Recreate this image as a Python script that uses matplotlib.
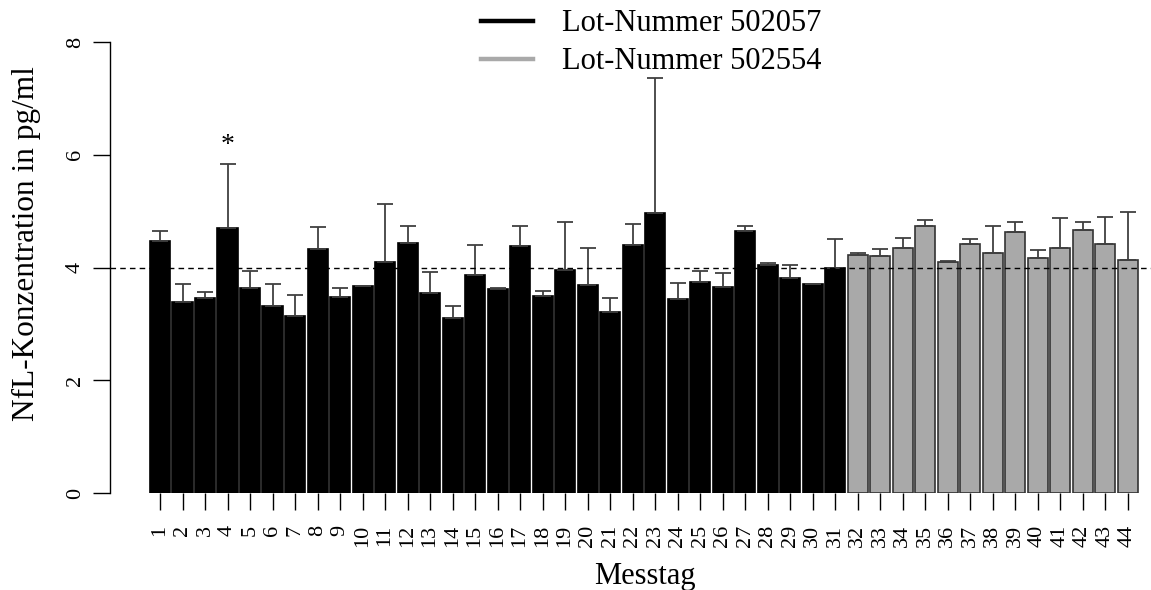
import numpy as np
import matplotlib
matplotlib.use("Agg")
import matplotlib.pyplot as plt
from matplotlib.lines import Line2D

plt.rcParams['font.family'] = ['Liberation Serif', 'DejaVu Serif']

# Messtage and mean NfL values (pg/ml), upper error bar ends
days = list(range(1, 45))
means = [4.47, 3.39, 3.46, 4.70, 3.63, 3.31, 3.14, 4.32, 3.48, 3.67,
         4.09, 4.44, 3.54, 3.11, 3.86, 3.62, 4.38, 3.50, 3.96, 3.69,
         3.21, 4.40, 4.97, 3.44, 3.75, 3.65, 4.65, 4.05, 3.82, 3.71,
         4.00,
         4.23, 4.21, 4.34, 4.73, 4.09, 4.42, 4.25, 4.63, 4.16, 4.35,
         4.67, 4.42, 4.14]
upper = [4.65, 3.70, 3.56, 5.84, 3.94, 3.70, 3.51, 4.71, 3.64, 3.67,
         5.13, 4.74, 3.92, 3.31, 4.40, 3.63, 4.73, 3.58, 4.80, 4.35,
         3.46, 4.78, 7.37, 3.72, 3.94, 3.91, 4.73, 4.08, 4.04, 3.71,
         4.50,
         4.26, 4.33, 4.52, 4.85, 4.11, 4.50, 4.74, 4.80, 4.31, 4.88,
         4.80, 4.90, 4.98]
lots = ['Lot-Nummer 502057'] * 31 + ['Lot-Nummer 502554'] * 13
lot_colors = {'Lot-Nummer 502057': 'black', 'Lot-Nummer 502554': '#a9a9a9'}
reference = 4.0
marked_day = 4

means = np.array(means)
upper = np.array(upper)
x = np.array(days)

fig = plt.figure(figsize=(11.51, 5.90), dpi=100)
ax = fig.add_axes([110 / 1151, 97 / 590, 1041 / 1151, 451 / 590])

fill = [lot_colors[l] for l in lots]
edge = ['black' if l == 'Lot-Nummer 502057' else '#333333' for l in lots]
ax.bar(x, means, width=0.89, color=fill, edgecolor=edge, linewidth=1.2, zorder=2)
ax.errorbar(x, means, yerr=[np.zeros_like(means), upper - means], fmt='none',
            ecolor='#404040', elinewidth=1.3, capsize=5.8, capthick=1.3, zorder=3)

# reference line at 4 pg/ml
ax.axhline(reference, color='black', linestyle=(0, (4, 3)), linewidth=1, zorder=4)

ax.text(marked_day, upper[marked_day - 1] + 0.1, '*', ha='center', va='bottom', fontsize=20)

ax.set_xlim(-1.222, 45.04)
ax.set_ylim(0, 8)
ax.set_yticks([0, 2, 4, 6, 8])
ax.set_yticklabels(['0', '2', '4', '6', '8'], rotation=90, va='center', fontsize=16)
ax.set_xticks(x)
ax.set_xticklabels([str(d) for d in days], rotation=90, fontsize=16)
ax.tick_params(axis='y', length=12, width=1, pad=6)
ax.tick_params(axis='x', length=12, width=1, pad=11)

for s in ['top', 'right', 'bottom']:
    ax.spines[s].set_visible(False)
ax.spines['left'].set_linewidth(1)

ax.set_ylabel('NfL-Konzentration in pg/ml', fontsize=22.5)
ax.yaxis.set_label_coords(-0.066, 0.554)
ax.set_xlabel('Messtag', fontsize=22)
ax.xaxis.set_label_coords(0.514, -0.153)

handles = [Line2D([0], [0], color=lot_colors[k], lw=3.2) for k in lot_colors]
fig.legend(handles, list(lot_colors), loc='upper left', bbox_to_anchor=(0.394, 1.031),
           frameon=False, fontsize=22, handlelength=1.7, handletextpad=0.96,
           labelspacing=0.3)

fig.savefig('out.png', dpi=100)
